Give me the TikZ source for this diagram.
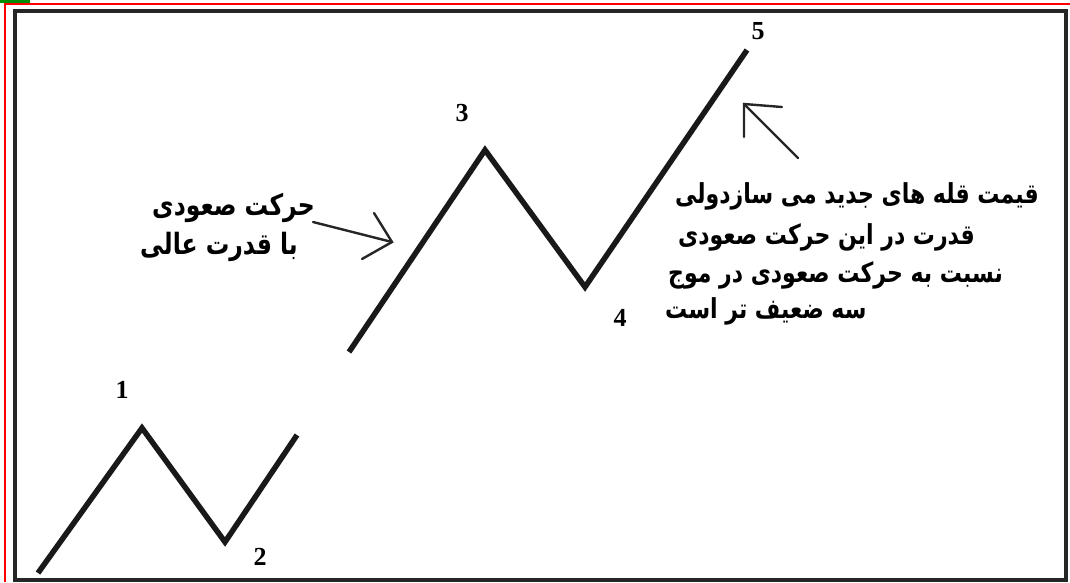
\documentclass[tikz,border=0pt]{standalone}
\usepackage{fontspec}
\setmainfont{Liberation Serif}
\newfontfamily\arabicfont[Script=Arabic]{DejaVu Sans}
\TeXXeTstate=1
\newcommand{\fatall}[1]{\scalebox{1}[1.25]{\beginR #1\endR}}
\begin{document}
\begin{tikzpicture}[x=1pt,y=-1pt,
  wave/.style={line width=5.5pt, line join=miter, black!90},
  pointer/.style={line width=2.4pt, black!85, line cap=round},
  numlabel/.style={font=\fontsize{26}{26}\selectfont\bfseries, inner sep=0pt},
  fatext/.style={font=\arabicfont\bfseries\fontsize{22}{22}\selectfont, inner sep=0pt, anchor=west}]
\useasboundingbox (0,0) rectangle (1070,582);
% screen edges
\fill[green!55!black] (0,0) rectangle (30,3);
\draw[red, line width=2pt] (5,582) -- (5,4) -- (1070,4);
\draw[line width=4pt, black!85] (15,11) rectangle (1066,580);
% lower zigzag
\coordinate (a0) at (38,573);
\coordinate (p1) at (142,428);
\coordinate (p2) at (225,542);
\coordinate (a3) at (297,435);
\draw[wave] (a0) -- (p1) -- (p2) -- (a3);
% upper zigzag
\coordinate (b0) at (349,352);
\coordinate (p3) at (485,150);
\coordinate (p4) at (585,287);
\coordinate (p5) at (747,50);
\draw[wave] (b0) -- (p3) -- (p4) -- (p5);
% numbers
\node[numlabel] (n1) at (122,390) {1};
\node[numlabel] (n2) at (260,557) {2};
\node[numlabel] (n3) at (462,113) {3};
\node[numlabel] (n4) at (620,318) {4};
\node[numlabel] (n5) at (758,31) {5};
% left arrow
\coordinate (la0) at (313,222);
\coordinate (la1) at (392,242);
\coordinate (la2) at (374,213);
\coordinate (la3) at (362,259);
\draw[pointer] (la0) -- (la1);
\draw[pointer] (la2) -- (la1) -- (la3);
% right arrow
\coordinate (ra0) at (798,158);
\coordinate (ra1) at (744,104);
\coordinate (ra2) at (744,137);
\coordinate (ra3) at (782,107);
\draw[pointer] (ra0) -- (ra1);
\draw[pointer] (ra2) -- (ra1) -- (ra3);
% left text
\node[fatext, font=\arabicfont\bfseries\fontsize{23.5}{23.5}\selectfont] (lt1) at (152,208) {\fatall{حرکت صعودی}};
\node[fatext, font=\arabicfont\bfseries\fontsize{23.5}{23.5}\selectfont] (lt2) at (140,247) {\fatall{با قدرت عالی}};
% right text
\node[fatext] (rt1) at (675,196) {\fatall{قیمت قله های جدید می سازدولی}};
\node[fatext] (rt2) at (678,237) {\fatall{قدرت در این حرکت صعودی}};
\node[fatext] (rt3) at (668,275) {\fatall{نسبت به حرکت صعودی در موج}};
\node[fatext] (rt4) at (665,311) {\fatall{سه ضعیف تر است}};
\end{tikzpicture}
\end{document}
